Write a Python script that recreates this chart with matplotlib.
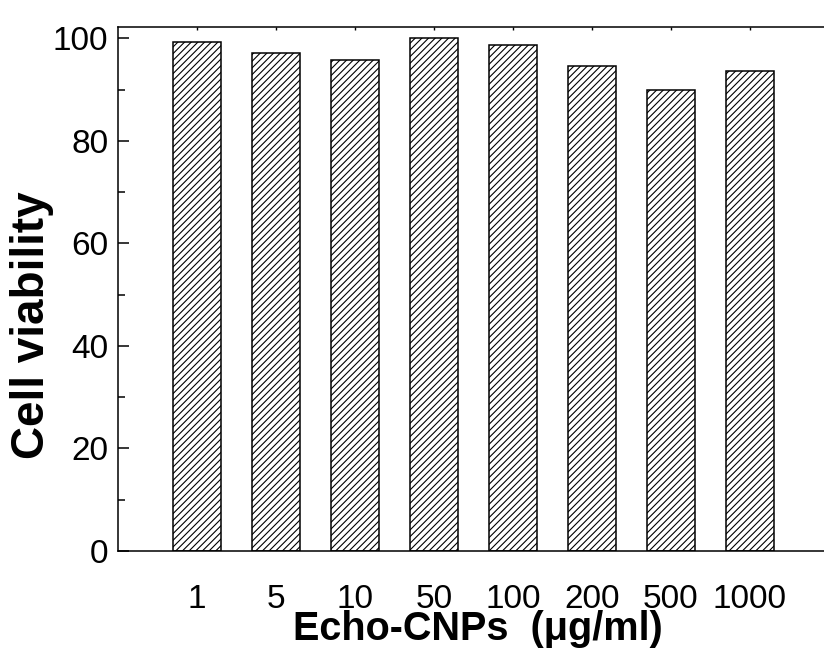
import matplotlib
matplotlib.use("Agg")
import matplotlib.pyplot as plt
from matplotlib.ticker import MultipleLocator

# Data
concentrations = ["1", "5", "10", "50", "100", "200", "500", "1000"]
viability = [99.3, 97.1, 95.8, 100.0, 98.7, 94.6, 90.0, 93.6]

plt.rcParams['font.family'] = ['Liberation Sans', 'DejaVu Sans']
plt.rcParams['hatch.linewidth'] = 0.8

fig = plt.figure(figsize=(8.24, 6.57), dpi=100)
ax = fig.add_axes([0.1432, 0.1613, 0.8628, 0.7976])

positions = range(1, len(concentrations) + 1)
ax.bar(positions, viability, width=0.6, color="white", edgecolor="black",
       linewidth=1.1, hatch="/////")

ax.set_xlim(0, 9)
ax.set_ylim(0, 102.2)
ax.set_xticks(list(positions))
ax.set_xticklabels(concentrations)
ax.yaxis.set_major_locator(MultipleLocator(20))
ax.yaxis.set_minor_locator(MultipleLocator(10))

for side in ["left", "bottom", "top", "right"]:
    ax.spines[side].set_linewidth(1.1)

ax.tick_params(axis="y", which="major", direction="in", length=8, width=1.1,
               labelsize=24, pad=7)
ax.tick_params(axis="y", which="minor", direction="in", length=5, width=1.1)
ax.tick_params(axis="x", which="major", bottom=False, top=True, direction="in",
               length=2, width=1.0, labelsize=24, pad=24)

ax.set_ylabel("Cell viability", fontsize=33, fontweight="bold")
ax.yaxis.set_label_coords(-0.090, 0.431)
ax.set_xlabel("Echo-CNPs  (\u03bcg/ml)", fontsize=28.5, fontweight="bold")
ax.xaxis.set_label_coords(0.506, -0.112)

fig.savefig("out.png", dpi=100)
